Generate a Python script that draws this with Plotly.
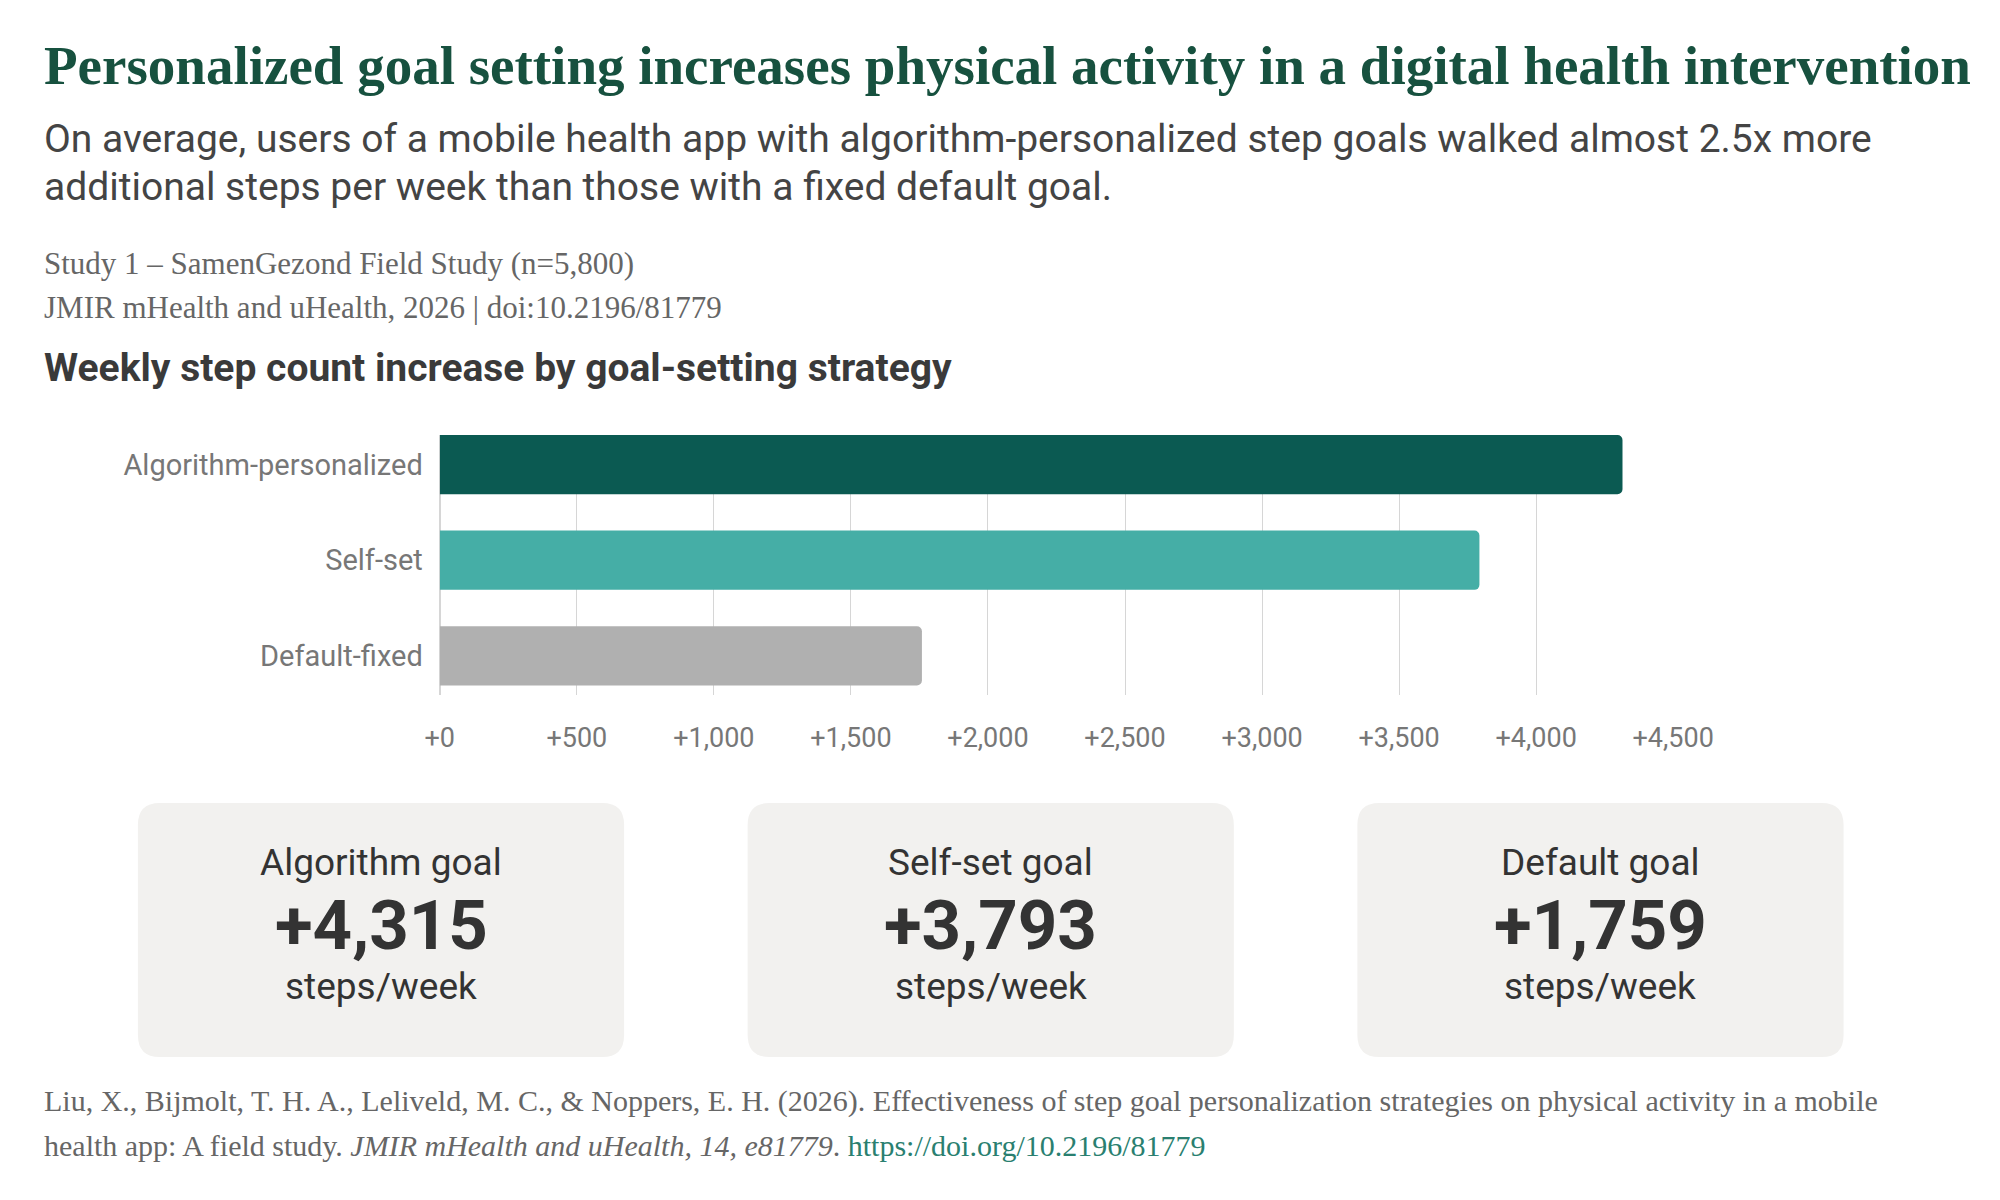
import plotly.graph_objects as go

W, H = 2000, 1200

# data
strategies = ["Algorithm-personalized", "Self-set", "Default-fixed"]
step_increase = [4315, 3793, 1759]
bar_colors = ["#0b5a52", "#45aea6", "#b0b0b0"]
tick_vals = [0, 500, 1000, 1500, 2000, 2500, 3000, 3500, 4000, 4500]
tick_text = ["+0", "+500", "+1,000", "+1,500", "+2,000", "+2,500", "+3,000", "+3,500", "+4,000", "+4,500"]
card_titles = ["Algorithm goal", "Self-set goal", "Default goal"]

SERIF = "Liberation Serif"
SANS = "Roboto"


def px_x(v):
    return (1.025 * v - 15) / W


def px_y(v):
    return 1 - (v - 5) / H


fig = go.Figure()
fig.add_trace(go.Bar(
    x=step_increase,
    y=strategies,
    orientation="h",
    width=0.62,
    marker=dict(color=bar_colors, cornerradius=5, line=dict(width=0)),
    hoverinfo="x+y",
))

fig.update_layout(
    width=W, height=H,
    margin=dict(l=0, r=0, t=0, b=0),
    paper_bgcolor="white", plot_bgcolor="white",
    showlegend=False,
    font=dict(family=SANS, color="#444"),
    xaxis=dict(
        domain=[px_x(441), px_x(1679)],
        range=[0, 4500],
        tickvals=tick_vals, ticktext=tick_text,
        showgrid=True, gridcolor="#d6d6d6", gridwidth=1,
        zeroline=True, zerolinecolor="#d6d6d6",
        tickfont=dict(size=27, color="#777"),
        ticks="", ticklabelstandoff=24,
        showline=False,
    ),
    yaxis=dict(
        domain=[px_y(700), px_y(440)],
        range=[2.41, -0.31],
        tickfont=dict(size=29, color="#777"),
        ticks="", ticklabelstandoff=16,
        showgrid=False, showline=False, zeroline=False,
    ),
)

ann = []


def text(x, y, s, size, color, family=SANS, xanchor="left"):
    ann.append(dict(
        x=px_x(x), y=px_y(y), xref="paper", yref="paper", text=s,
        showarrow=False, xanchor=xanchor, yanchor="middle",
        font=dict(size=size, color=color, family=family), align="left",
    ))


text(42, 70, "<b>Personalized goal setting increases physical activity in a digital health intervention</b>",
     55, "#17513f", SERIF)
text(42, 144, "On average, users of a mobile health app with algorithm-personalized step goals walked almost 2.5x more",
     39, "#444")
text(42, 192, "additional steps per week than those with a fixed default goal.", 39, "#444")
text(42, 268, "Study 1 – SamenGezond Field Study (n=5,800)", 31, "#666", SERIF)
text(42, 312, "JMIR mHealth and uHealth, 2026 | doi:10.2196/81779", 31, "#666", SERIF)
text(42, 373, "<b>Weekly step count increase by goal-setting strategy</b>", 39, "#3a3a3a")

shapes = []
card_x = [(138, 626), (750, 1238), (1362, 1850)]
for (x0, x1), title, val in zip(card_x, card_titles, step_increase):
    y0, y1, r = 808, 1062, 22
    path = (f"M {px_x(x0 + r)} {px_y(y0)} L {px_x(x1 - r)} {px_y(y0)} "
            f"Q {px_x(x1)} {px_y(y0)} {px_x(x1)} {px_y(y0 + r)} "
            f"L {px_x(x1)} {px_y(y1 - r)} Q {px_x(x1)} {px_y(y1)} {px_x(x1 - r)} {px_y(y1)} "
            f"L {px_x(x0 + r)} {px_y(y1)} Q {px_x(x0)} {px_y(y1)} {px_x(x0)} {px_y(y1 - r)} "
            f"L {px_x(x0)} {px_y(y0 + r)} Q {px_x(x0)} {px_y(y0)} {px_x(x0 + r)} {px_y(y0)} Z")
    shapes.append(dict(type="path", path=path, xref="paper", yref="paper",
                       fillcolor="#f2f1ef", line=dict(width=0), layer="below"))
    cx = (x0 + x1) / 2
    text(cx, 867, title, 37, "#333", xanchor="center")
    text(cx, 930, f"<b>+{val:,}</b>", 69, "#333", xanchor="center")
    text(cx, 991, "steps/week", 37, "#333", xanchor="center")

text(42, 1106, "Liu, X., Bijmolt, T. H. A., Leliveld, M. C., &amp; Noppers, E. H. (2026). Effectiveness of step goal "
     "personalization strategies on physical activity in a mobile", 30, "#666", SERIF)
text(42, 1150, "health app: A field study. <i>JMIR mHealth and uHealth, 14, e81779</i>. "
     "<span style='color:#2a7f70'>https://doi.org/10.2196/81779</span>", 30, "#666", SERIF)

fig.update_layout(annotations=ann, shapes=shapes)
fig.write_html("out.html", config={"displayModeBar": False},
               post_script="document.body.style.margin='0';")
